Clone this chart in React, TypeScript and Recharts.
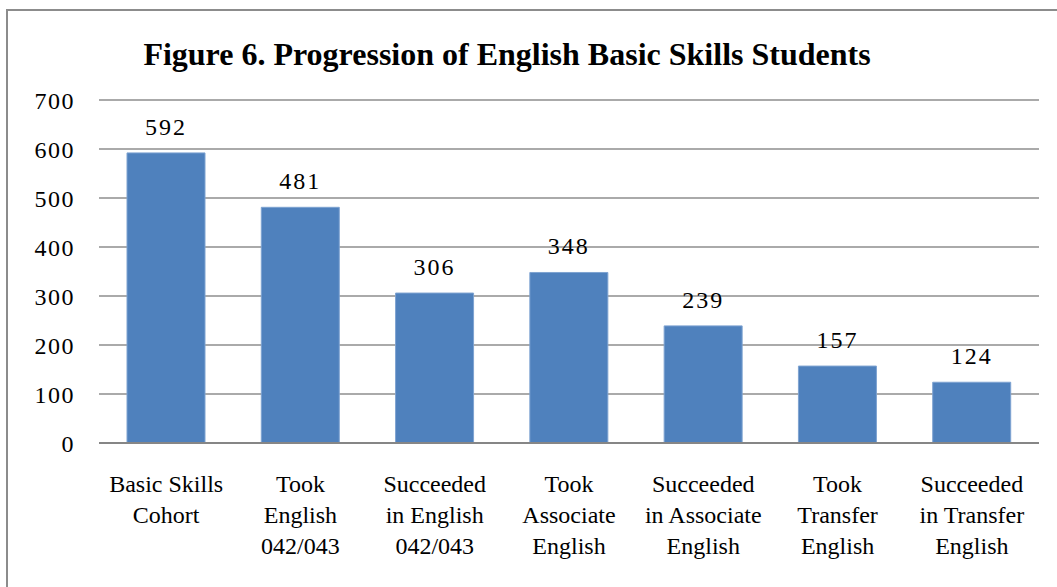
import { BarChart, Bar, XAxis, YAxis, CartesianGrid, LabelList } from "recharts";

const categories = [
  "Basic Skills Cohort",
  "Took English 042/043",
  "Succeeded in English 042/043",
  "Took Associate English",
  "Succeeded in Associate English",
  "Took Transfer English",
  "Succeeded in Transfer English",
];

const tickLines = [
  ["Basic Skills", "Cohort"],
  ["Took", "English", "042/043"],
  ["Succeeded", "in English", "042/043"],
  ["Took", "Associate", "English"],
  ["Succeeded", "in Associate", "English"],
  ["Took", "Transfer", "English"],
  ["Succeeded", "in Transfer", "English"],
];

const students = [592, 481, 306, 348, 239, 157, 124];

const yTicks = [0, 100, 200, 300, 400, 500, 600, 700];

const data = categories.map((name, i) => ({ name, students: students[i] }));

const serif = '"Liberation Serif", "Times New Roman", serif';

// multi-line category label under each bar
function CategoryTick(props: any) {
  const { x, y, index } = props;
  const lines = tickLines[index] || [];
  return (
    <text x={x} y={y} textAnchor="middle" fill="#000" fontSize={24} fontFamily={serif}>
      {lines.map((l, i) => (
        <tspan key={i} x={x} y={y + 49 + i * 31}>
          {l}
        </tspan>
      ))}
    </text>
  );
}

export default function App() {
  return (
    <div
      style={{
        position: "absolute",
        left: 0,
        top: 0,
        width: 1057,
        height: 587,
        overflow: "hidden",
        background: "#fff",
        fontFamily: serif,
      }}
    >
      <div
        style={{
          position: "absolute",
          left: 6,
          top: 9,
          width: 1200,
          height: 700,
          border: "2px solid #8c8c8c",
        }}
      />
      <div
        style={{
          position: "absolute",
          left: 0,
          top: 38,
          width: 1014,
          textAlign: "center",
          fontWeight: "bold",
          fontSize: 32,
          lineHeight: "32px",
          color: "#000",
          whiteSpace: "nowrap",
        }}
      >
        Figure 6. Progression of English Basic Skills Students
      </div>
      <div style={{ position: "absolute", left: 0, top: 0 }}>
        <BarChart
          width={1057}
          height={587}
          data={data}
          margin={{ top: 100, right: 18, bottom: 44, left: 0 }}
        >
          <CartesianGrid vertical={false} stroke="#8e8e8e" strokeWidth={1.3} />
          <XAxis
            dataKey="name"
            height={100}
            interval={0}
            tickLine={false}
            tickSize={0}
            tickMargin={0}
            axisLine={{ stroke: "#868686", strokeWidth: 2 }}
            tick={<CategoryTick />}
          />
          <YAxis
            width={99}
            domain={[0, 700]}
            ticks={yTicks}
            axisLine={false}
            tickLine={false}
            tickSize={0}
            tickMargin={24}
            tick={{ fill: "#000", fontSize: 24, letterSpacing: 1.5, fontFamily: serif }}
          />
          <Bar
            dataKey="students"
            fill="#4f81bd"
            stroke="#7ea3d1"
            strokeWidth={1}
            barSize={78}
            isAnimationActive={false}
          >
            <LabelList
              dataKey="students"
              position="top"
              offset={18}
              fill="#000"
              fontSize={24}
              letterSpacing={2}
              fontFamily={serif}
            />
          </Bar>
        </BarChart>
      </div>
    </div>
  );
}
